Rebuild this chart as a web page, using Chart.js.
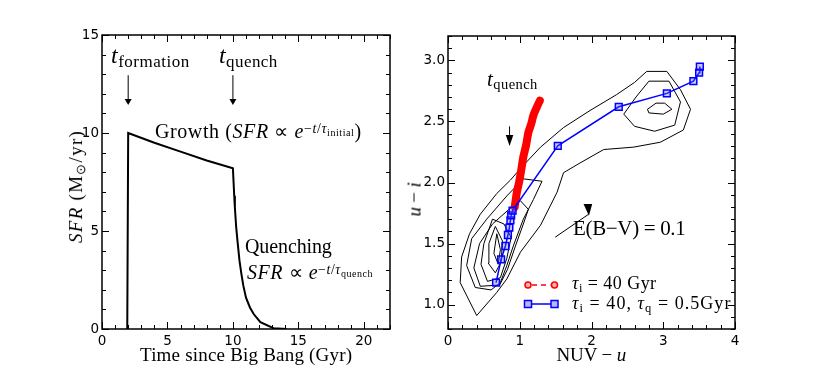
<!DOCTYPE html>
<html>
<head>
<meta charset="utf-8">
<script src="https://cdn.jsdelivr.net/npm/chart.js@4.4.1/dist/chart.umd.min.js"></script>
<style>
body { margin:0; background:#fff; width:817px; height:368px; overflow:hidden; position:relative; }
.panel { position:absolute; top:0; }
.tx { position:absolute; font-family:'Liberation Serif','Times New Roman',serif; font-size:19px; line-height:1; white-space:nowrap; color:#000; }
.tx i { font-style:italic; }
.sb { position:relative; }
</style>
</head>
<body>
<div class="panel" style="left:0"><canvas id="sfrChart" width="410" height="368"></canvas></div>
<div class="panel" style="left:395px"><canvas id="colourChart" width="422" height="368"></canvas></div>

<div class="tx" data-x="111" data-base="63" data-size="24" data-w="79"><i>t</i><span class="sb" style="font-size:17px;top:4px">formation</span></div>
<div class="tx" data-x="219" data-base="63" data-size="24" data-w="59"><i>t</i><span class="sb" style="font-size:17px;top:4px">quench</span></div>
<div class="tx" data-x="155" data-base="137.5" data-size="20" data-w="207">Growth (<i>SFR</i> ∝ <i>e</i><span class="sb" style="font-size:14px;top:-5px">−<i>t</i>/<i>τ</i><span class="sb" style="font-size:10px;top:3px">initial</span></span>)</div>
<div class="tx" data-x="245" data-base="252.3" data-size="20" data-w="87">Quenching</div>
<div class="tx" data-x="247" data-base="279" data-size="20" data-w="126"><i>SFR</i> ∝ <i>e</i><span class="sb" style="font-size:14px;top:-5px">−<i>t</i>/<i>τ</i><span class="sb" style="font-size:10px;top:3px">quench</span></span></div>
<div class="tx" data-cx="246" data-base="361" data-size="19" data-w="212">Time since Big Bang (Gyr)</div>
<div class="tx" data-rot="1" data-cx="75.5" data-cy="186.5" data-size="19" data-w="113"><i>SFR</i> (M<span class="sb" style="font-size:13px;top:3px">⊙</span>/yr)</div>

<div class="tx" data-x="487" data-base="87" data-size="21" data-w="51"><i>t</i><span class="sb" style="font-size:14.5px;top:3px">quench</span></div>
<div class="tx" data-x="573" data-base="236" data-size="21" data-w="112">E(B−V) = 0.1</div>
<div class="tx" data-x="572" data-base="289" data-size="18" data-w="85"><i>τ</i><span class="sb" style="font-size:12.5px;top:3px">i</span> = 40 Gyr</div>
<div class="tx" data-x="572" data-base="309" data-size="18" data-w="159"><i>τ</i><span class="sb" style="font-size:12.5px;top:3px">i</span> = 40, <i>τ</i><span class="sb" style="font-size:12.5px;top:3px">q</span> = 0.5Gyr</div>
<div class="tx" data-cx="591.5" data-base="361" data-size="19" data-w="70">NUV − <i>u</i></div>
<div class="tx" data-rot="1" data-cx="413.5" data-cy="199" data-size="19" data-w="34"><i>u</i> − <i>i</i></div>

<script>
// left panel: star formation history
const sfrTime  = [1.93, 2.0, 4, 6, 8, 10, 10.05, 10.1, 10.15, 10.25, 10.35, 10.5, 10.65, 10.8, 11.0, 11.3, 11.6, 12.1, 13.1, 14.1];
const sfrValue = [0, 10, 9.5, 9.05, 8.6, 8.2, 7.5, 6.8, 6.2, 5.2, 4.5, 3.5, 2.8, 2.2, 1.6, 1.1, 0.75, 0.35, 0.04, 0];
const sfrTicksX = [0, 5, 10, 15, 20];
const sfrTicksY = [0, 5, 10, 15];

// right panel: colour-colour track
const quenchNUVu = [0.67, 0.74, 0.80, 0.835, 0.855, 0.87, 0.88, 0.90, 1.53, 2.38, 3.05, 3.42, 3.50, 3.51];
const quenchUi   = [1.18, 1.37, 1.48, 1.57, 1.63, 1.69, 1.73, 1.77, 2.30, 2.62, 2.73, 2.83, 2.90, 2.95];
const noQuenchNUVu = [0.93, 0.96, 0.99, 1.02, 1.05, 1.09, 1.12, 1.16, 1.19, 1.24, 1.28];
const noQuenchUi   = [1.80, 1.92, 2.00, 2.10, 2.21, 2.31, 2.41, 2.48, 2.55, 2.62, 2.67];
const colTicksX = [0, 1, 2, 3, 4];
const colTicksY = [1.0, 1.5, 2.0, 2.5, 3.0];

// density contours (NUV-u, u-i)
const contourA = [[0.40,0.91],[0.17,1.18],[0.19,1.39],[0.30,1.58],[0.45,1.74],[0.68,1.91],[0.87,2.02],[1.05,2.14],[1.29,2.29],[1.61,2.45],[1.98,2.59],[2.35,2.72],[2.60,2.82],[2.77,2.91],[3.05,2.91],[3.24,2.76],[3.38,2.60],[3.28,2.43],[2.96,2.33],[2.59,2.29],[2.17,2.27],[1.84,2.16],[1.61,2.08],[1.52,1.92],[1.29,1.65],[1.01,1.43],[0.82,1.21],[0.68,1.10],[0.40,0.91]];
const contourB = [[1.05,2.03],[1.31,2.01],[1.19,1.86],[1.05,1.70],[0.91,1.48],[0.82,1.32],[0.73,1.18],[0.60,1.12],[0.38,1.14],[0.26,1.32],[0.33,1.54],[0.54,1.70],[0.82,1.89],[1.05,2.03]];
const contourC = [[1.01,1.85],[1.12,1.78],[1.05,1.66],[0.94,1.48],[0.83,1.29],[0.72,1.16],[0.45,1.15],[0.36,1.30],[0.44,1.50],[0.62,1.66],[0.85,1.78],[1.01,1.85]];
const contourD = [[0.62,1.70],[0.78,1.66],[0.88,1.55],[0.82,1.38],[0.73,1.22],[0.55,1.19],[0.46,1.33],[0.50,1.50],[0.62,1.70]];
const contourE = [[0.66,1.64],[0.76,1.52],[0.74,1.35],[0.66,1.26],[0.56,1.34],[0.57,1.50],[0.66,1.64]];
const contourF = [[0.68,1.58],[0.73,1.45],[0.70,1.33],[0.64,1.42],[0.68,1.58]];
const contourG = [[2.45,2.56],[2.62,2.70],[2.80,2.83],[3.08,2.83],[3.24,2.66],[3.16,2.47],[2.88,2.42],[2.60,2.46],[2.45,2.56]];
const contourH = [[2.78,2.60],[2.90,2.65],[3.02,2.65],[3.12,2.60],[3.00,2.56],[2.80,2.57],[2.78,2.60]];

function minors(lo, hi, step, major) {
    let out = []
    for (let i = 0; lo + i * step <= hi + 1e-9; i++) {
        let v = +(lo + i * step).toFixed(4)
        if (!major.some(m => Math.abs(m - v) < 1e-6)) out.push(v)
    }
    return out
}

function px(v) { return Math.round(v) + 0.5 }

function drawArrow(ctx, xs, ys, ar) {
    let x1 = xs.getPixelForValue(ar.from[0]), y1 = ys.getPixelForValue(ar.from[1])
    let x2 = xs.getPixelForValue(ar.to[0]), y2 = ys.getPixelForValue(ar.to[1])
    let ang = Math.atan2(y2 - y1, x2 - x1)
    let bx = x2 - Math.cos(ang) * ar.len, by = y2 - Math.sin(ang) * ar.len
    ctx.lineWidth = 1
    ctx.beginPath()
    ctx.moveTo(x1, y1)
    ctx.lineTo(bx, by)
    ctx.stroke()
    ctx.beginPath()
    if (ar.head) {
        ar.head.forEach((p, i) => {
            let hx = xs.getPixelForValue(p[0]), hy = ys.getPixelForValue(p[1])
            if (i == 0) ctx.moveTo(hx, hy); else ctx.lineTo(hx, hy)
        })
    } else {
        ctx.moveTo(x2, y2)
        ctx.lineTo(bx + Math.sin(ang) * ar.w / 2, by - Math.cos(ang) * ar.w / 2)
        ctx.lineTo(bx - Math.sin(ang) * ar.w / 2, by + Math.cos(ang) * ar.w / 2)
    }
    ctx.closePath()
    ctx.fill()
}

// frame, inward ticks on all sides, arrows and the hand drawn key
const boxTicks = {
    id: 'boxTicks',
    afterDraw(chart, args, o) {
        const ctx = chart.ctx, a = chart.chartArea
        const xs = chart.scales.x, ys = chart.scales.y
        ctx.save()
        ctx.strokeStyle = '#000'
        ctx.fillStyle = '#000'
        ctx.lineWidth = 1
        ctx.beginPath()
        const xt = (list, len) => list.forEach(v => {
            let p = px(xs.getPixelForValue(v))
            ctx.moveTo(p, a.bottom); ctx.lineTo(p, a.bottom - len)
            ctx.moveTo(p, a.top); ctx.lineTo(p, a.top + len)
        })
        const yt = (list, len) => list.forEach(v => {
            let p = px(ys.getPixelForValue(v))
            ctx.moveTo(a.left, p); ctx.lineTo(a.left + len, p)
            ctx.moveTo(a.right, p); ctx.lineTo(a.right - len, p)
        })
        xt(o.xMajor, 7); xt(o.xMinor, 4)
        yt(o.yMajor, 7); yt(o.yMinor, 4)
        ctx.stroke()
        ctx.lineWidth = 1.5
        ctx.strokeRect(a.left, a.top, a.right - a.left, a.bottom - a.top)

        ;(o.arrows || []).forEach(ar => drawArrow(ctx, xs, ys, ar))

        if (o.key) {
            let k = o.key
            // red dashed line with circles
            let y1 = a.top + k.row1, x1 = a.left + k.x1, x2 = a.left + k.x2
            ctx.strokeStyle = 'red'
            ctx.lineWidth = 1.5
            ctx.setLineDash([5, 4])
            ctx.beginPath(); ctx.moveTo(x1 + 4, y1); ctx.lineTo(x2 - 4, y1); ctx.stroke()
            ctx.setLineDash([])
            ;[x1, x2].forEach(x => {
                ctx.beginPath(); ctx.arc(x, y1, 3, 0, Math.PI * 2)
                ctx.fillStyle = '#ffb0b0'; ctx.fill(); ctx.stroke()
            })
            // blue line with squares
            let y2 = a.top + k.row2
            ctx.strokeStyle = 'blue'
            ctx.beginPath(); ctx.moveTo(x1, y2); ctx.lineTo(x2, y2); ctx.stroke()
            ;[x1, x2].forEach(x => {
                ctx.fillStyle = '#b8b8ff'
                ctx.fillRect(x - 3.5, y2 - 3.5, 7, 7)
                ctx.strokeRect(x - 3.5, y2 - 3.5, 7, 7)
            })
        }
        ctx.restore()
    }
}

const tickFont = { family: 'DejaVu Sans', size: 13.5 }

function axis(min, max, ticks, fmt, pad, fit) {
    return {
        type: 'linear', min: min, max: max,
        grid: { display: false, drawTicks: false },
        border: { display: false },
        afterBuildTicks: s => { s.ticks = ticks.map(v => ({ value: v })) },
        afterFit: fit,
        ticks: { color: '#000', font: tickFont, padding: pad, callback: fmt, maxRotation: 0, autoSkip: false }
    }
}

const plain = v => String(v)

new Chart('sfrChart', {
    type: 'scatter',
    data: {
        datasets: [{
            data: sfrTime.map((t, i) => ({ x: t, y: sfrValue[i] })),
            showLine: true,
            borderColor: '#000',
            borderWidth: 2,
            pointRadius: 0,
            tension: 0
        }]
    },
    options: {
        responsive: false,
        animation: false,
        layout: { padding: { left: 72, right: 20, top: 35, bottom: 0 } },
        plugins: {
            legend: { display: false },
            tooltip: { enabled: false },
            boxTicks: {
                xMajor: sfrTicksX, xMinor: minors(0, 22, 1, sfrTicksX),
                yMajor: sfrTicksY, yMinor: minors(0, 15, 1, sfrTicksY),
                arrows: [
                    { from: [2, 12.95], to: [2, 11.43], len: 6, w: 7 },
                    { from: [10, 12.95], to: [10, 11.43], len: 6, w: 7 }
                ]
            }
        },
        scales: {
            x: axis(0, 22, sfrTicksX, plain, 4, s => { s.height = 39 }),
            y: axis(0, 15, sfrTicksY, plain, 3, s => { s.width = 30 })
        }
    },
    plugins: [boxTicks]
})

const contours = [contourA, contourB, contourC, contourD, contourE, contourF, contourG, contourH]

let colourSets = [
    {
        data: quenchNUVu.map((x, i) => ({ x: x, y: quenchUi[i] })),
        showLine: true,
        borderColor: 'blue',
        borderWidth: 1.5,
        pointStyle: 'rect',
        pointRadius: 4.8,
        pointBorderWidth: 1.5,
        pointBorderColor: 'blue',
        pointBackgroundColor: 'rgba(90,90,255,0.35)',
        order: 0
    },
    {
        data: noQuenchNUVu.map((x, i) => ({ x: x, y: noQuenchUi[i] })),
        showLine: true,
        borderColor: 'red',
        borderWidth: 8,
        borderCapStyle: 'round',
        borderJoinStyle: 'round',
        pointRadius: 0,
        tension: 0.3,
        order: 1
    }
]
contours.forEach(c => {
    colourSets.push({
        data: c.map(p => ({ x: p[0], y: p[1] })),
        showLine: true,
        borderColor: '#000',
        borderWidth: 1,
        pointRadius: 0,
        tension: 0,
        order: 2
    })
})

new Chart('colourChart', {
    type: 'scatter',
    data: { datasets: colourSets },
    options: {
        responsive: false,
        animation: false,
        layout: { padding: { left: 20, right: 82, top: 36, bottom: 0 } },
        plugins: {
            legend: { display: false },
            tooltip: { enabled: false },
            boxTicks: {
                xMajor: colTicksX, xMinor: minors(0, 4, 0.2, colTicksX),
                yMajor: colTicksY, yMinor: minors(0.8, 3.2, 0.1, colTicksY),
                arrows: [
                    { from: [0.858, 2.46], to: [0.858, 2.30], len: 11, w: 7.5 },
                    { from: [1.494, 1.552], to: [1.96, 1.74], len: 0, head: [[1.889, 1.824], [2.01, 1.824], [1.964, 1.728]] }
                ],
                key: { x1: 80, x2: 106.5, row1: 249, row2: 268 }
            }
        },
        scales: {
            x: axis(0, 4, colTicksX, plain, 4, s => { s.height = 39 }),
            y: axis(0.8, 3.2, colTicksY, v => v.toFixed(1), 3, s => { s.width = 33 })
        }
    },
    plugins: [boxTicks]
})

// place the math-like labels, stretching them to the measured widths
document.querySelectorAll('.tx').forEach(el => {
    let d = el.dataset, size = +d.size
    el.style.fontSize = size + 'px'
    let extra = (+d.w - el.offsetWidth) / el.textContent.length
    el.style.letterSpacing = extra.toFixed(2) + 'px'
    let w = el.offsetWidth, h = el.offsetHeight
    if (d.rot) {
        el.style.left = (d.cx - w / 2) + 'px'
        el.style.top = (d.cy - h / 2) + 'px'
        el.style.transform = 'rotate(-90deg)'
    } else {
        el.style.left = (d.cx ? d.cx - w / 2 : +d.x) + 'px'
        el.style.top = (d.base - 0.8375 * size) + 'px'
    }
})
</script>
</body>
</html>
